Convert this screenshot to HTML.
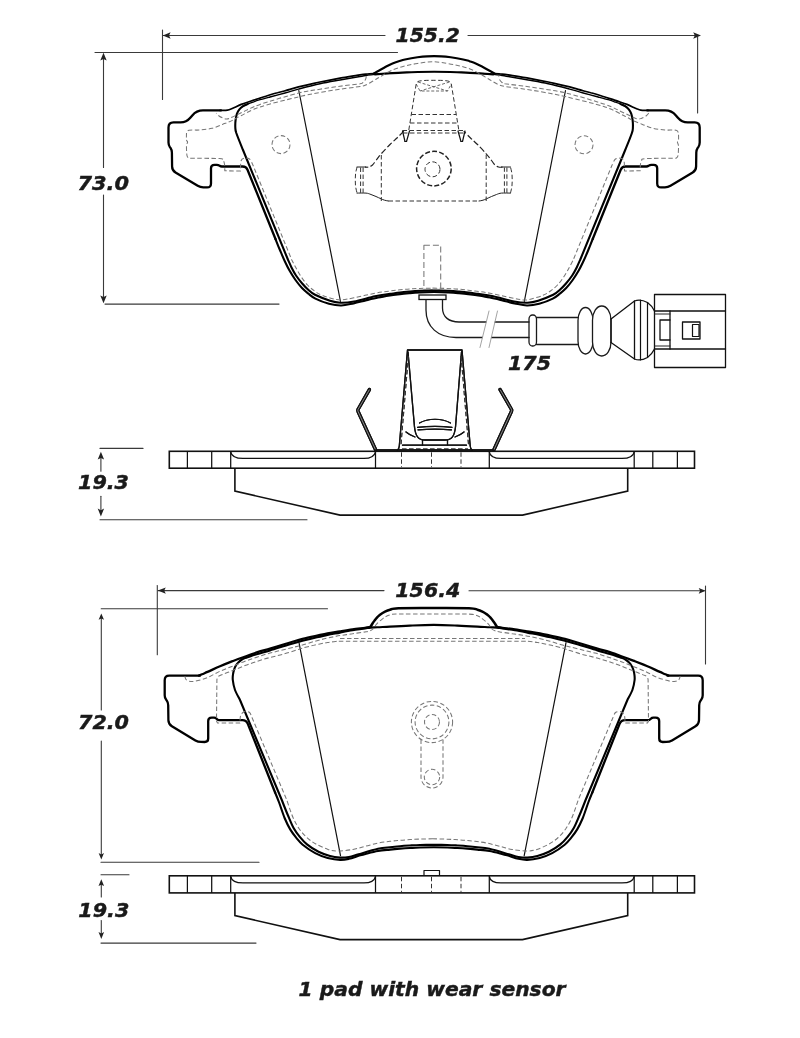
<!DOCTYPE html>
<html lang="en"><head><meta charset="utf-8"><title>Brake pad drawing</title>
<style>
html,body{margin:0;padding:0;background:#fff}
svg{display:block}
path,rect,circle,ellipse{fill:none;stroke-linecap:round;stroke-linejoin:round}
.k{stroke:#000;stroke-width:2.3}
.kb{stroke:#000;stroke-width:2.5}
.k2{stroke:#000;stroke-width:2.1}
.ka{stroke:#000;stroke-width:1.7}
.ma{stroke:#000;stroke-width:1.4}
.m{stroke:#000;stroke-width:2.1}
.t2{stroke:#111;stroke-width:1.25;stroke-linecap:butt}
.s{stroke:#111;stroke-width:1.6;stroke-linejoin:miter;stroke-linecap:butt}
.t{stroke:#111;stroke-width:1.2}
.s2{stroke:#111;stroke-width:1.3}
.w{stroke:#1a1a1a;stroke-width:1.3}
.cn{stroke:#1a1a1a;stroke-width:1.15}
.wg1{stroke:#111;stroke-width:3.4;stroke-linecap:round}
.wg2{stroke:#aaa;stroke-width:.8;stroke-linecap:butt}
.lg{stroke:#999;stroke-width:.9}
.g{stroke:#3a3a3a;stroke-width:1.1}
.d{stroke:#777;stroke-width:1.05;stroke-dasharray:4.5 2.5;stroke-linecap:butt}
.d2{stroke:#777;stroke-width:1.05;stroke-dasharray:6 3;stroke-linecap:butt}
.dd{stroke:#333;stroke-width:1;stroke-dasharray:4.5 2.5;stroke-linecap:butt}
.t1{stroke:#222;stroke-width:1}
.dd3{stroke:#222;stroke-width:1.2;stroke-dasharray:6 2.5;stroke-linecap:butt}
.dd2{stroke:#444;stroke-width:.8;stroke-dasharray:3 1.8;stroke-linecap:butt}
.dk{stroke:#222;stroke-width:1.5;stroke-dasharray:5 2.2;stroke-linecap:butt}
.a{fill:#222;stroke:none}
text{font-family:"DejaVu Sans","Liberation Sans",sans-serif;font-weight:bold;font-style:italic;fill:#1a1a1a;stroke:#1a1a1a;stroke-width:.45}
</style></head><body>
<svg width="800" height="1038" viewBox="0 0 800 1038">
<rect x="0" y="0" width="800" height="1038" style="fill:#fff;stroke:none"/>
<path class="ka" d="M373.8 73.5C372.7 73.6 369.8 73.8 367.5 74C365.2 74.2 364.6 74.1 360 74.8C355.4 75.5 345.4 77.3 340 78.2C334.6 79.2 330.8 80 327.5 80.6C324.2 81.2 322.1 81.6 320 82C317.9 82.4 318.6 82.3 315 83.1C311.4 83.9 302.7 85.9 298.5 86.9C294.3 88 293.5 88.4 290 89.4C286.5 90.4 281.7 91.6 277.5 92.8C273.3 93.9 267.9 95.6 265 96.5C262.1 97.4 261.9 97.5 260 98.1C258.1 98.7 255.8 99.4 253.8 100.1C251.7 100.8 249.6 101.5 247.5 102.2C245.4 102.9 243.3 103.6 241.2 104.4C239.2 105.2 236.7 106.4 235 107.2C233.3 108 232.2 108.5 231 109C229.8 109.5 228.7 109.9 227.5 110.1C226.3 110.3 225.2 110.4 224 110.4C222.8 110.5 220.7 110.4 220 110.4"/>
<path class="ka" d="M648.2 110.4C647.5 110.4 645.5 110.5 644.2 110.4C643 110.4 641.9 110.3 640.7 110.1C639.5 109.9 638.5 109.5 637.2 109C636 108.5 634.9 108 633.2 107.2C631.5 106.4 629 105.2 627 104.4C624.9 103.6 622.8 102.9 620.7 102.2C618.6 101.5 616.5 100.8 614.5 100.1C612.4 99.4 610.1 98.7 608.2 98.1C606.3 97.5 606.1 97.4 603.2 96.5C600.3 95.6 594.9 93.9 590.7 92.8C586.5 91.6 581.7 90.4 578.2 89.4C574.7 88.4 573.9 88 569.7 86.9C565.5 85.9 556.8 83.9 553.2 83.1C549.6 82.3 550.3 82.4 548.2 82C546.1 81.6 544 81.2 540.7 80.6C537.4 80 533.6 79.2 528.2 78.2C522.8 77.3 512.8 75.5 508.2 74.8C503.6 74.1 503 74.2 500.7 74C498.4 73.8 495.5 73.6 494.5 73.5"/>
<path class="k2" d="M275.5 239C276.2 240.7 277.9 245.3 279.5 249C281.1 252.7 283.1 257.7 284.8 261.2C286.5 264.8 287.7 267.4 289.5 270.5C291.3 273.6 293.4 277.1 295.5 280C297.6 282.9 299.8 285.7 302 288C304.2 290.3 306.3 292 308.5 293.8C310.7 295.6 312 296.9 315.4 298.6C318.8 300.3 324.7 302.6 329 303.8C333.3 304.9 337.2 305.6 341.3 305.5C345.4 305.4 349.5 304.2 353.6 303.4C357.7 302.5 361.6 301.4 365.7 300.4C369.8 299.4 374.1 298.3 378.2 297.5C382.2 296.7 386.4 296 390 295.4C393.6 294.8 396.7 294.5 400 294.1C403.3 293.7 406.7 293.4 410 293.1C413.3 292.8 416 292.6 420 292.4C424 292.2 429.4 292 434.1 292C438.8 292 444.2 292.2 448.2 292.4C452.2 292.6 454.9 292.8 458.2 293.1C461.5 293.4 464.9 293.7 468.2 294.1C471.5 294.5 474.6 294.8 478.2 295.4C481.8 296 486 296.7 490 297.5C494.1 298.3 498.4 299.4 502.5 300.4C506.6 301.4 510.5 302.5 514.6 303.4C518.7 304.2 522.8 305.4 526.9 305.5C531 305.6 534.9 304.9 539.2 303.8C543.5 302.6 549.4 300.3 552.8 298.6C556.2 296.9 557.5 295.6 559.7 293.8C561.9 292 564 290.3 566.2 288C568.4 285.7 570.6 282.9 572.7 280C574.8 277.1 576.9 273.6 578.7 270.5C580.5 267.4 581.7 264.8 583.4 261.2C585.1 257.7 587.2 252.7 588.7 249C590.2 245.3 592 240.7 592.7 239"/>
<path class="k" d="M221 110.4L203 110.4 Q196.5 110.4 192.3 115.4L190.3 117.8 Q186.5 122.4 180.5 122.4L173.5 122.4 Q168.5 122.4 168.5 127.4L168.5 142.5 Q168.5 145 169.9 147.1L170.5 147.9 Q171.9 150 171.9 152.5L172.1 166.5 Q172.1 170.5 175.5 172.5L197.7 185.8 Q200.3 187.3 203.3 187.4L207 187.4 Q211 187.5 211 183.5L211 168.3 Q211 164.8 214.5 164.8L216.8 164.8 Q218.3 164.8 219.4 165.7L219.6 165.8 Q220.6 166.5 221.8 166.5L242.7 166.5 Q246.2 166.5 247.5 169.7L275.5 239"/>
<path class="k" d="M592.7 239L620.7 169.7 Q622 166.5 625.5 166.5L646.4 166.5 Q647.6 166.5 648.6 165.8L648.8 165.7 Q649.9 164.8 651.4 164.8L653.7 164.8 Q657.2 164.8 657.2 168.3L657.2 183.5 Q657.2 187.5 661.2 187.4L664.9 187.4 Q667.9 187.3 670.5 185.8L692.7 172.5 Q696.1 170.5 696.1 166.5L696.3 152.5 Q696.3 150 697.7 147.9L698.3 147.1 Q699.7 145 699.7 142.5L699.7 127.4 Q699.7 122.4 694.7 122.4L687.7 122.4 Q681.7 122.4 677.9 117.8L675.9 115.4 Q671.7 110.4 665.2 110.4L647.2 110.4"/>
<path class="k2" d="M373.8 73.5C374.8 72.9 377.9 71.2 380 70C382.1 68.8 384.2 67.6 386.2 66.5C388.3 65.4 390.4 64.4 392.5 63.5C394.6 62.6 396.7 61.9 398.8 61.2C400.8 60.6 401.9 60.1 405 59.4C408.1 58.7 412.6 57.8 417.5 57.2C422.4 56.7 428.6 56.1 434.1 56.1C439.6 56.1 445.9 56.7 450.7 57.2C455.6 57.8 460.1 58.7 463.2 59.4C466.3 60.1 467.4 60.6 469.5 61.2C471.5 61.9 473.6 62.6 475.7 63.5C477.8 64.4 479.9 65.4 482 66.5C484 67.6 486.1 68.8 488.2 70C490.3 71.2 493.4 72.9 494.5 73.5"/>
<path class="k2" d="M493.2 74.4C490.3 74.2 481.7 73.5 475.7 73.1C469.7 72.7 463.9 72.5 457 72.2C450 72 441.7 71.8 434.1 71.8C426.5 71.8 418.2 72 411.2 72.2C404.3 72.5 398.5 72.7 392.5 73.1C386.5 73.5 377.9 74.2 375 74.4"/>
<path class="ma" d="M392.5 73.1C389.6 73.3 379.2 74.1 375 74.4C370.8 74.8 370 74.9 367.5 75.2C365 75.5 364.6 75.7 360 76.5C355.4 77.3 346.7 78.8 340 80C333.3 81.2 326.9 82.2 320 83.8C313.1 85.3 304.3 87.6 298.5 89.1C292.7 90.6 289.8 91.7 285 93C280.2 94.3 274.2 95.9 270 97C265.8 98.1 262.7 98.9 260 99.7C257.3 100.5 255.8 101 253.8 101.8C251.7 102.5 249.3 103.3 247.5 104.1C245.7 104.8 243.8 105.9 243.1 106.2"/>
<path class="ma" d="M625.1 106.2C624.4 105.9 622.5 104.8 620.7 104.1C618.9 103.3 616.5 102.5 614.5 101.8C612.4 101 610.9 100.5 608.2 99.7C605.5 98.9 602.4 98.1 598.2 97C594 95.9 588 94.3 583.2 93C578.5 91.7 575.5 90.6 569.7 89.1C563.9 87.6 555.1 85.3 548.2 83.8C541.3 82.2 534.9 81.2 528.2 80C521.5 78.8 512.8 77.3 508.2 76.5C503.6 75.7 503.2 75.5 500.7 75.2C498.2 74.9 497.4 74.8 493.2 74.4C489 74.1 478.6 73.3 475.7 73.1"/>
<path class="m" d="M247.5 104.1C246.8 104.5 244.4 105.4 243.1 106.2C241.8 107.1 240.4 108.2 239.4 109.4C238.4 110.7 237.5 112 236.9 113.8C236.3 115.5 235.9 117.8 235.6 120C235.3 122.2 235.2 124.8 235.3 127C235.4 129.2 235.1 129.2 236.3 133C237.6 136.8 241.7 146.8 242.8 149.5L288.1 260C288.7 261.2 290.2 264.9 291.5 267.5C292.8 270.1 294.2 272.8 296 275.5C297.8 278.2 300.2 281.2 302.2 283.5C304.2 285.8 305.9 287.6 308 289.5C310.1 291.4 311.3 292.9 315 294.8C318.7 296.6 325.8 299.4 330 300.8C334.2 302.1 336.5 302.6 340.5 302.7C344.5 302.8 348.2 302.6 354 301.5C359.8 300.4 369 297.6 375 296.3C381 295 385.8 294.5 390 293.9C394.2 293.3 396.7 292.9 400 292.5C403.3 292.1 406.7 291.8 410 291.5C413.3 291.2 416 291 420 290.8C424 290.6 429.4 290.4 434.1 290.4C438.8 290.4 444.2 290.6 448.2 290.8C452.2 291 454.9 291.2 458.2 291.5C461.5 291.8 464.9 292.1 468.2 292.5C471.5 292.9 474 293.3 478.2 293.9C482.4 294.5 487.2 295 493.2 296.3C499.2 297.6 508.5 300.4 514.2 301.5C520 302.6 523.7 302.8 527.7 302.7C531.7 302.6 534 302.1 538.2 300.8C542.5 299.4 549.5 296.6 553.2 294.8C556.9 292.9 558.1 291.4 560.2 289.5C562.3 287.6 564 285.8 566 283.5C568 281.2 570.4 278.2 572.2 275.5C574 272.8 575.4 270.1 576.7 267.5C578 264.9 579.5 261.2 580.1 260L625.4 149.5C626.5 146.8 630.7 136.8 631.9 133C633.2 129.2 632.8 129.2 632.9 127C633 124.8 632.9 122.2 632.6 120C632.3 117.8 631.9 115.5 631.3 113.8C630.7 112 629.8 110.7 628.8 109.4C627.8 108.2 626.5 107.1 625.1 106.2C623.8 105.4 621.4 104.5 620.7 104.1"/>
<path class="t" d="M298.8 90.5 L340.5 301.5"/>
<path class="t" d="M565.5 90.5 L524.3 301.5"/>
<path class="d" d="M366.3 76.3C366.2 76.8 366.1 78.5 365.5 79.5C364.9 80.5 363.9 81.8 363 82.5C362.1 83.2 363.8 83.1 360 83.8C356.2 84.4 346.7 85.3 340 86.2C333.3 87.2 326.9 88.1 320 89.2C313.1 90.4 308.5 90.6 298.5 93.1C288.5 95.6 269.3 101.2 260 104.4C250.7 107.6 247.2 110.1 242.5 112.2C237.8 114.3 234.5 116.1 231.9 117.2C229.3 118.3 228.3 118.8 226.9 119C225.5 119.2 225.1 118.9 223.8 118.4C222.4 117.9 220.2 116.9 219 116C217.8 115.1 216.7 113.6 216.2 113.1"/>
<path class="d" d="M648.8 113.1C648.3 113.6 647.2 115.1 646 116C644.8 116.9 642.6 117.9 641.2 118.4C639.9 118.9 639.5 119.2 638.1 119C636.7 118.8 635.7 118.3 633.1 117.2C630.5 116.1 627.2 114.3 622.5 112.2C617.8 110.1 614.3 107.6 605 104.4C595.7 101.2 576.5 95.6 566.5 93.1C556.5 90.6 551.9 90.4 545 89.2C538.1 88.1 531.7 87.2 525 86.2C518.3 85.3 508.8 84.4 505 83.8C501.2 83.1 502.9 83.2 502 82.5C501.1 81.8 500.1 80.5 499.5 79.5C498.9 78.5 498.8 76.8 498.7 76.3"/>
<path class="d" d="M432.5 288.1C434.6 288.2 441.2 288.3 445 288.4C448.8 288.5 451.7 288.7 455 288.9C458.3 289.1 461.7 289.4 465 289.8C468.3 290.2 470.8 290.4 475 291C479.2 291.6 484 292.1 490 293.2C496 294.4 505.5 296.6 511 297.8C516.5 298.9 520 299.6 523 299.9C526 300.2 525.8 300.2 529 299.5C532.2 298.8 538.9 296.9 542.5 295.5C546.1 294.1 548 292.8 550.5 291C553 289.2 555.2 287.4 557.5 285C559.8 282.6 562 279.5 564 276.5C566 273.5 568 269.8 569.5 267C571 264.2 572.6 261.2 573.2 260L612.1 165C612.7 164 614 160.1 615.5 159C617 157.9 619.6 158 621 158.3C622.4 158.6 623.4 158.9 624 161C624.6 163.1 624.4 169.3 624.5 171L640.2 170.8C640.2 169.8 640.2 166.6 640.4 165C640.6 163.4 640.6 162.1 641.5 161C642.4 159.9 639.8 159 645.5 158.6C651.2 158.2 670.9 158.4 676 158.3C676.3 157.9 677.6 157.7 678 155.6C678.4 153.5 678.6 148.3 678.5 146C678.4 143.7 677.4 143 677.4 142C677.4 141 678.3 141.5 678.5 140C678.7 138.5 678.5 134.2 678.5 133C678.1 132.6 678.2 130.8 676 130.3C673.8 129.8 668.8 130.3 665 130C661.2 129.7 656.8 129.2 653 128.3C649.2 127.4 645.8 125.7 642.5 124.4C639.2 123.1 636 122 633.1 120.6C630.2 119.2 629.7 118.5 625 116.2C620.3 114 614.8 110.1 605 106.9C595.2 103.7 576.5 99.3 566.5 96.9C556.5 94.5 551.9 93.8 545 92.5C538.1 91.2 531.7 90.2 525 89.2C518.3 88.2 509.4 87.2 505 86.5C500.6 85.8 501 85.7 498.8 84.8C496.5 83.8 493.5 81.9 491.2 80.6C489 79.3 488.1 78.7 485 76.9C481.9 75.1 476.7 71.8 472.5 70C468.3 68.2 464.2 67.1 460 66C455.8 64.9 452.1 64.2 447.5 63.5C442.9 62.8 437.5 61.7 432.5 61.7C427.5 61.7 422.1 62.8 417.5 63.5C412.9 64.2 409.2 64.9 405 66C400.8 67.1 396.7 68.2 392.5 70C388.3 71.8 383.1 75.1 380 76.9C376.9 78.7 376 79.3 373.8 80.6C371.5 81.9 368.5 83.8 366.2 84.8C364 85.7 364.4 85.8 360 86.5C355.6 87.2 346.7 88.2 340 89.2C333.3 90.2 326.9 91.2 320 92.5C313.1 93.8 308.5 94.5 298.5 96.9C288.5 99.3 269.8 103.7 260 106.9C250.2 110.1 244.7 114 240 116.2C235.3 118.5 234.8 119.2 231.9 120.6C229 122 225.8 123.1 222.5 124.4C219.2 125.7 215.8 127.4 212 128.3C208.2 129.2 203.8 129.7 200 130C196.2 130.3 191.2 129.8 189 130.3C186.8 130.8 186.9 132.6 186.5 133C186.5 134.2 186.3 138.5 186.5 140C186.7 141.5 187.6 141 187.6 142C187.6 143 186.6 143.7 186.5 146C186.4 148.3 186.6 153.5 187 155.6C187.4 157.7 188.7 157.9 189 158.3C194.1 158.4 213.8 158.2 219.5 158.6C225.2 159 222.7 159.9 223.5 161C224.3 162.1 224.4 163.4 224.6 165C224.8 166.6 224.8 169.8 224.8 170.8L240.5 171C240.6 169.3 240.4 163.1 241 161C241.6 158.9 242.6 158.6 244 158.3C245.4 158 248 157.9 249.5 159C251 160.1 252.3 164 252.9 165L291.8 260C292.4 261.2 294 264.2 295.5 267C297 269.8 299 273.5 301 276.5C303 279.5 305.2 282.6 307.5 285C309.8 287.4 312 289.2 314.5 291C317 292.8 318.9 294.1 322.5 295.5C326.1 296.9 332.8 298.8 336 299.5C339.2 300.2 339 300.2 342 299.9C345 299.6 348.5 298.9 354 297.8C359.5 296.6 369 294.4 375 293.2C381 292.1 385.8 291.6 390 291C394.2 290.4 396.7 290.2 400 289.8C403.3 289.4 406.7 289.1 410 288.9C413.3 288.7 416.2 288.5 420 288.4C423.8 288.3 430.4 288.2 432.5 288.1"/>
<circle class="d" cx="281" cy="144.6" r="9"/>
<circle class="d" cx="584" cy="144.8" r="9"/>
<path class="dd" d="M408.8 130L416.2 84C416.5 83.6 416.7 82.1 418 81.5C419.3 80.9 421.4 80.7 424 80.5C426.6 80.3 430.5 80.3 433.8 80.3C437 80.3 440.9 80.3 443.5 80.5C446.1 80.7 448.2 80.9 449.5 81.5C450.8 82.1 451 83.6 451.3 84L458.8 130"/>
<path class="dd2" d="M416.2 84 L420 91 H447.5 L451.3 84"/>
<path class="dd2" d="M418 82 L447.5 91 M449.5 82 L420 91"/>
<path class="dd" d="M411.5 114.5 L456 114.5"/>
<path class="dd" d="M410 123 L457.5 123"/>
<path class="dd" d="M402.5 130.5 L465 130.5"/>
<path class="dd" d="M403 133 L464.5 133"/>
<path class="t" d="M402.5 131L405 141.5"/>
<path class="t" d="M462.5 141.5L465 131"/>
<path class="t" d="M409.5 131L406.5 141.5"/>
<path class="t" d="M461 141.5L458 131"/>
<path class="t" d="M405 141.5L406.5 141.5"/>
<path class="t" d="M461 141.5L462.5 141.5"/>
<path class="dd3" d="M403.8 131.2C402.6 132.4 399.3 135.8 397 138C394.7 140.2 392.6 141.9 390 144.5C387.4 147.1 383.6 151.1 381.2 153.8C378.9 156.4 377.5 158.6 376 160.5C374.5 162.4 373.7 163.9 372.5 165C371.3 166.1 370.2 166.6 369 167C367.8 167.4 365.7 167.2 365 167.2"/>
<path class="dd3" d="M502.5 167.2C501.8 167.2 499.8 167.4 498.5 167C497.2 166.6 496.2 166.1 495 165C493.8 163.9 493 162.4 491.5 160.5C490 158.6 488.6 156.4 486.2 153.8C483.9 151.1 480.1 147.1 477.5 144.5C474.9 141.9 472.8 140.2 470.5 138C468.2 135.8 464.9 132.4 463.8 131.2"/>
<path class="t1" d="M366 167L357 167"/>
<path class="t1" d="M510.5 167L501.5 167"/>
<path class="dd" d="M357 167C356.8 168.1 355.9 171.3 355.6 173.5C355.3 175.7 355.3 177.8 355.3 180C355.3 182.2 355.3 184.3 355.6 186.5C355.9 188.7 356.8 191.9 357 193"/>
<path class="dd" d="M510.5 193C510.7 191.9 511.6 188.7 511.9 186.5C512.2 184.3 512.2 182.2 512.2 180C512.2 177.8 512.2 175.7 511.9 173.5C511.6 171.3 510.7 168.1 510.5 167"/>
<path class="dd" d="M360.6 167.5L360.6 192.8"/>
<path class="dd" d="M506.9 192.8L506.9 167.5"/>
<path class="dd" d="M363.1 167.5L363.1 192.8"/>
<path class="dd" d="M504.4 192.8L504.4 167.5"/>
<path class="t1" d="M357 193.1C358.5 193.1 363.7 192.9 366 193.1C368.3 193.3 369.3 193.9 371 194.5C372.7 195.1 374.3 195.8 376 196.5C377.7 197.2 379.6 198.2 381 198.8C382.4 199.4 383.2 199.8 384.5 200.2C385.8 200.6 387.8 200.9 388.5 201"/>
<path class="t1" d="M479 201C479.7 200.9 481.8 200.6 483 200.2C484.2 199.8 485.1 199.4 486.5 198.8C487.9 198.2 489.8 197.2 491.5 196.5C493.2 195.8 494.8 195.1 496.5 194.5C498.2 193.9 499.2 193.3 501.5 193.1C503.8 192.9 509 193.1 510.5 193.1"/>
<path class="dd" d="M388.5 201 L479 201"/>
<path class="dd" d="M381.3 155L381.3 201"/>
<path class="dd" d="M486.2 201L486.2 155"/>
<circle class="dk" cx="433.9" cy="168.6" r="17.3"/>
<circle class="dd" cx="432.5" cy="169.3" r="7.5"/>
<path class="k" d="M370.5 626.9C369.6 627 368 627.4 365 627.8C362 628.2 356.7 628.7 352.5 629.3C348.3 629.9 344.2 630.6 340 631.3C335.8 632 331.7 632.5 327.5 633.3C323.3 634.1 319.2 635.2 315 636.1C310.8 637 305.8 638.1 302.5 638.9C299.2 639.7 297.9 640.1 295 641C292.1 641.9 289.2 642.7 285 644C280.8 645.3 274.6 647.2 270 648.6C265.4 650 262.1 650.7 257.5 652.2C252.9 653.7 246.7 656 242.5 657.5C238.3 659 236.2 659.8 232.5 661.2C228.8 662.7 224.2 664.5 220 666.2C215.8 668 210.5 670.6 207.5 671.9C204.5 673.2 203.5 673.7 202 674.3C200.5 674.9 199.3 675.4 198.8 675.6"/>
<path class="k" d="M668.6 675.6C668.1 675.4 666.9 674.9 665.4 674.3C663.9 673.7 662.9 673.2 659.9 671.9C656.9 670.6 651.6 668 647.4 666.2C643.2 664.5 638.6 662.7 634.9 661.2C631.1 659.8 629.1 659 624.9 657.5C620.7 656 614.5 653.7 609.9 652.2C605.3 650.7 602 650 597.4 648.6C592.8 647.2 586.6 645.3 582.4 644C578.2 642.7 575.3 641.9 572.4 641C569.5 640.1 568.2 639.7 564.9 638.9C561.6 638.1 556.6 637 552.4 636.1C548.2 635.2 544.1 634.1 539.9 633.3C535.7 632.5 531.6 632 527.4 631.3C523.2 630.6 519.1 629.9 514.9 629.3C510.7 628.7 505.4 628.2 502.4 627.8C499.4 627.4 497.8 627 496.9 626.9"/>
<path class="k2" d="M275.1 792.5C275.8 794.2 277.5 798.2 279.1 802.5C280.7 806.8 282.8 813.5 284.6 818C286.5 822.5 288.2 826 290.2 829.4C292.2 832.8 294.4 835.5 296.5 838.1C298.6 840.7 299.6 842.2 302.7 844.7C305.8 847.2 311 850.9 315.2 853.1C319.4 855.3 323.5 856.9 327.7 858C331.9 859.1 336.6 859.8 340.2 859.9C343.8 860 345.9 859.5 349 858.8C352.1 858.1 355.9 856.6 358.6 855.8C361.4 855 362.3 854.7 365.5 853.9C368.7 853.1 373.9 851.7 378 851C382.1 850.3 386.3 850 390 849.6C393.7 849.2 396.7 848.9 400 848.6C403.3 848.4 406.7 848.2 410 848C413.3 847.8 416.1 847.7 420 847.5C423.9 847.4 429.1 847.3 433.7 847.3C438.3 847.3 443.4 847.4 447.4 847.5C451.3 847.7 454.1 847.8 457.4 848C460.7 848.2 464.1 848.4 467.4 848.6C470.7 848.9 473.7 849.2 477.4 849.6C481.1 850 485.3 850.3 489.4 851C493.5 851.7 498.7 853.1 501.9 853.9C505.1 854.7 506 855 508.8 855.8C511.5 856.6 515.3 858.1 518.4 858.8C521.5 859.5 523.7 860 527.2 859.9C530.8 859.8 535.5 859.1 539.7 858C543.9 856.9 548 855.3 552.2 853.1C556.4 850.9 561.6 847.2 564.7 844.7C567.8 842.2 568.8 840.7 570.9 838.1C573 835.5 575.2 832.8 577.2 829.4C579.2 826 580.9 822.5 582.8 818C584.6 813.5 586.7 806.8 588.3 802.5C589.9 798.2 591.6 794.2 592.3 792.5"/>
<path class="k" d="M200 675.7L169.2 675.7 Q164.7 675.7 164.7 680.2L164.7 695.2 Q164.7 697.7 166.1 699.7L166.8 700.7 Q168.2 702.7 168.2 705.2L168.4 720.2 Q168.5 724.2 171.9 726.3L195.4 740.4 Q198 741.9 201 741.9L204.7 742 Q208.2 742 208.2 738.5L208.2 721.1 Q208.2 717.6 211.7 717.6L214 717.6 Q215.5 717.6 216.5 718.7L217.2 719.3 Q218 720.2 219.2 720.2L242.3 720.2 Q246.3 720.2 247.8 723.9L275.1 792.5"/>
<path class="k" d="M592.3 792.5L619.6 723.9 Q621.1 720.2 625.1 720.2L648.2 720.2 Q649.4 720.2 650.2 719.3L650.9 718.7 Q651.9 717.6 653.4 717.6L655.7 717.6 Q659.2 717.6 659.2 721.1L659.2 738.5 Q659.2 742 662.7 742L666.4 741.9 Q669.4 741.9 672 740.4L695.5 726.3 Q698.9 724.2 699 720.2L699.2 705.2 Q699.2 702.7 700.6 700.7L701.3 699.7 Q702.7 697.7 702.7 695.2L702.7 680.2 Q702.7 675.7 698.2 675.7L667.4 675.7"/>
<path class="kb" d="M370.5 626.9C370.8 626.3 371.8 624.6 372.5 623.5C373.2 622.4 374.2 621.1 375 620C375.8 618.9 376.7 617.9 377.5 617C378.3 616.1 378.8 615.6 380 614.7C381.2 613.8 383.3 612.4 385 611.6C386.7 610.8 387.8 610.3 390 609.7C392.2 609.1 391.2 608.5 398.5 608.2C405.8 607.9 422 608 433.7 608C445.4 608 461.6 607.9 468.9 608.2C476.2 608.5 475.1 609.1 477.4 609.7C479.6 610.3 480.7 610.8 482.4 611.6C484.1 612.4 486.1 613.8 487.4 614.7C488.6 615.6 489.1 616.1 489.9 617C490.7 617.9 491.6 618.9 492.4 620C493.2 621.1 494.1 622.4 494.9 623.5C495.6 624.6 496.6 626.3 496.9 626.9"/>
<path class="m" d="M433.7 844.7C431.4 844.8 423.9 844.9 420 845C416.1 845.1 413.3 845.3 410 845.5C406.7 845.7 403.3 845.9 400 846.2C396.7 846.5 393.7 846.8 390 847.2C386.3 847.6 383.2 847.6 378 848.8C372.8 850 363.4 852.9 358.6 854.3C353.8 855.7 352.1 856.5 349 857C345.9 857.5 343.2 857.8 340 857.6C336.8 857.4 333.6 857 330 856C326.4 855 322.3 853.7 318.5 851.8C314.7 849.9 310.1 846.9 307 844.4C303.9 841.9 302 839.6 299.8 836.9C297.6 834.2 295.6 831.6 293.6 828C291.6 824.4 290 820.2 288 815.5C286 810.8 282.8 802.6 281.8 800L240 700C239.2 698.3 236.2 693.3 235 690C233.8 686.7 233.1 682.7 232.8 680C232.5 677.3 232.8 675.6 233.1 673.8C233.3 671.9 233.8 670.5 234.3 669C234.8 667.5 235.6 666.1 236.2 665C236.9 663.9 237.5 663.3 238.3 662.5C239.1 661.7 240.1 660.7 241.2 660C242.4 659.3 243.5 658.7 245 658.1C246.5 657.5 247.9 657.1 250 656.4C252.1 655.7 254.2 655 257.5 654C260.8 653 264.6 652 270 650.4C275.4 648.8 284.6 645.8 290 644.2C295.4 642.6 298.3 641.8 302.5 640.7C306.7 639.6 310.8 638.8 315 637.8C319.2 636.8 323.3 635.8 327.5 634.9C331.7 634 335.8 633.4 340 632.6C344.2 631.8 348.3 631 352.5 630.3C356.7 629.6 362 629 365 628.5C368 628 368.4 627.8 370.5 627.6C372.6 627.4 374.2 627.4 377.5 627.2C380.8 627 384.6 626.9 390 626.6C395.4 626.3 402.7 625.9 410 625.6C417.3 625.3 425.8 624.9 433.7 624.9C441.6 624.9 450.1 625.3 457.4 625.6C464.7 625.9 472 626.3 477.4 626.6C482.8 626.9 486.6 627 489.9 627.2C493.1 627.4 494.8 627.4 496.9 627.6C499 627.8 499.4 628 502.4 628.5C505.4 629 510.7 629.6 514.9 630.3C519.1 631 523.2 631.8 527.4 632.6C531.6 633.4 535.7 634 539.9 634.9C544.1 635.8 548.2 636.8 552.4 637.8C556.6 638.8 560.7 639.6 564.9 640.7C569.1 641.8 572 642.6 577.4 644.2C582.8 645.8 592 648.8 597.4 650.4C602.8 652 606.6 653 609.9 654C613.2 655 615.3 655.7 617.4 656.4C619.5 657.1 620.9 657.5 622.4 658.1C623.9 658.7 625 659.3 626.1 660C627.3 660.7 628.3 661.7 629.1 662.5C629.9 663.3 630.5 663.9 631.1 665C631.8 666.1 632.6 667.5 633.1 669C633.6 670.5 634 671.9 634.3 673.8C634.5 675.6 634.9 677.3 634.6 680C634.3 682.7 633.6 686.7 632.4 690C631.2 693.3 628.2 698.3 627.4 700L585.6 800C584.6 802.6 581.4 810.8 579.4 815.5C577.4 820.2 575.8 824.4 573.8 828C571.8 831.6 569.8 834.2 567.6 836.9C565.4 839.6 563.5 841.9 560.4 844.4C557.3 846.9 552.7 849.9 548.9 851.8C545.1 853.7 541 855 537.4 856C533.8 857 530.6 857.4 527.4 857.6C524.2 857.8 521.5 857.5 518.4 857C515.3 856.5 513.6 855.7 508.8 854.3C504 852.9 494.6 850 489.4 848.8C484.2 847.6 481.1 847.6 477.4 847.2C473.7 846.8 470.7 846.5 467.4 846.2C464.1 845.9 460.7 845.7 457.4 845.5C454.1 845.3 451.3 845.1 447.4 845C443.4 844.9 436 844.8 433.7 844.7"/>
<path class="t" d="M299 642.7 L340.5 855.7"/>
<path class="t" d="M566 642.7 L524.2 855.7"/>
<path class="d" d="M184.8 676.3C185 676.8 185.3 678.7 186 679.5C186.7 680.3 187.5 680.9 189 681.2C190.5 681.5 191.9 681.9 195 681.2C198.1 680.6 203.3 679.2 207.5 677.5C211.7 675.8 215.8 673.1 220 671.2C224.2 669.4 228.3 667.9 232.5 666.2C236.7 664.6 240.8 662.8 245 661.2C249.2 659.7 253.3 658.3 257.5 656.9C261.7 655.5 265.8 654.2 270 653.1C274.2 652 278.3 651 282.5 650C286.7 649 291.7 647.7 295 646.9C298.3 646.1 299.2 645.9 302.5 645C305.8 644.1 310.8 642.4 315 641.2C319.2 640.1 323.3 639 327.5 638.1C331.7 637.2 335.8 636.3 340 635.6C344.2 634.9 348.3 634.4 352.5 633.8C356.7 633.1 362.1 632.4 365 631.9C367.9 631.4 368.7 631.3 370 630.8C371.3 630.3 372.1 629.9 373 629C373.9 628.1 374.8 626.5 375.5 625.5C376.2 624.5 376.3 624.2 377.5 623.1C378.7 622 381.1 619.9 382.5 618.8C383.9 617.6 384.8 617.1 386 616.5C387.2 615.9 388.3 615.4 390 615C391.7 614.6 388.9 614.3 396 614.1C403.1 613.9 420.3 614 432.5 614C444.7 614 461.9 613.9 469 614.1C476.1 614.3 473.3 614.6 475 615C476.7 615.4 477.8 615.9 479 616.5C480.2 617.1 481.1 617.6 482.5 618.8C483.9 619.9 486.3 622 487.5 623.1C488.7 624.2 488.8 624.5 489.5 625.5C490.2 626.5 491.1 628.1 492 629C492.9 629.9 493.7 630.3 495 630.8C496.3 631.3 497.1 631.4 500 631.9C502.9 632.4 508.3 633.1 512.5 633.8C516.7 634.4 520.8 634.9 525 635.6C529.2 636.3 533.3 637.2 537.5 638.1C541.7 639 545.8 640.1 550 641.2C554.2 642.4 559.2 644.1 562.5 645C565.8 645.9 566.7 646.1 570 646.9C573.3 647.7 578.3 649 582.5 650C586.7 651 590.8 652 595 653.1C599.2 654.2 603.3 655.5 607.5 656.9C611.7 658.3 615.8 659.7 620 661.2C624.2 662.8 628.3 664.6 632.5 666.2C636.7 667.9 640.8 669.4 645 671.2C649.2 673.1 653.3 675.8 657.5 677.5C661.7 679.2 666.9 680.6 670 681.2C673.1 681.9 674.5 681.5 676 681.2C677.5 680.9 678.3 680.3 679 679.5C679.7 678.7 680 676.8 680.2 676.3"/>
<path class="d" d="M432.5 838.8C434.6 838.8 441.2 839 445 839.1C448.8 839.2 451.7 839.4 455 839.6C458.3 839.8 461.7 840 465 840.3C468.3 840.6 471.3 840.8 475 841.3C478.7 841.8 482.9 842.3 487 843.1C491.1 843.9 495.3 845.2 499.5 846.2C503.7 847.3 507.4 848.6 512 849.4C516.6 850.2 522.8 851 527 851C531.2 851 533.2 850.6 537 849.4C540.8 848.2 546 845.7 549.5 843.8C553 841.8 555.5 840 558.2 837.5C561 835 563.5 832.1 565.8 828.8C568 825.4 569.9 822.3 572 817.5C574.1 812.7 577.2 802.9 578.2 800L613 717.5C613.4 716.7 614.2 713.5 615.5 712.5C616.8 711.5 619.2 711.3 620.7 711.8C622.2 712.3 623.7 713.6 624.4 715.5C625.1 717.4 624.9 721.8 625 723L647.5 723L648.5 721L648.1 679.5C648 679.1 647.7 677.6 647.2 677C646.7 676.4 647.5 676.7 645 675.6C642.5 674.5 636.7 672.3 632.5 670.6C628.3 668.9 624.2 667.2 620 665.6C615.8 664 611.7 662.6 607.5 661.2C603.3 659.9 599.2 658.6 595 657.5C590.8 656.4 586.7 655.5 582.5 654.4C578.3 653.2 573.3 651.6 570 650.6C566.7 649.6 565.8 649 562.5 648.1C559.2 647.2 554.2 645.9 550 645C545.8 644.1 541.2 643.1 537.5 642.5C533.8 641.9 529.2 641.5 527.5 641.3C511.7 641.3 464.2 641.3 432.5 641.3C400.8 641.3 353.3 641.3 337.5 641.3C335.8 641.5 331.2 641.9 327.5 642.5C323.8 643.1 319.2 644.1 315 645C310.8 645.9 305.8 647.2 302.5 648.1C299.2 649 298.3 649.6 295 650.6C291.7 651.6 286.7 653.2 282.5 654.4C278.3 655.5 274.2 656.4 270 657.5C265.8 658.6 261.7 659.9 257.5 661.2C253.3 662.6 249.2 664 245 665.6C240.8 667.2 236.7 668.9 232.5 670.6C228.3 672.3 222.4 674.5 220 675.6C217.6 676.7 218.3 676.4 217.8 677C217.3 677.6 217.1 679.1 216.9 679.5L216.5 721L217.5 723L240 723C240.1 721.8 239.9 717.4 240.6 715.5C241.3 713.6 242.8 712.3 244.3 711.8C245.8 711.3 248.2 711.5 249.5 712.5C250.8 713.5 251.6 716.7 252 717.5L286.8 800C287.8 802.9 290.9 812.7 293 817.5C295.1 822.3 297 825.4 299.2 828.8C301.5 832.1 304 835 306.8 837.5C309.5 840 312 841.8 315.5 843.8C319 845.7 324.2 848.2 328 849.4C331.8 850.6 333.8 851 338 851C342.2 851 348.4 850.2 353 849.4C357.6 848.6 361.3 847.3 365.5 846.2C369.7 845.2 373.9 843.9 378 843.1C382.1 842.3 386.3 841.8 390 841.3C393.7 840.8 396.7 840.6 400 840.3C403.3 840 406.7 839.8 410 839.6C413.3 839.4 416.2 839.2 420 839.1C423.8 839 430.4 838.8 432.5 838.8"/>
<path class="d" d="M340 638.5 L525 638.5"/>
<circle class="d" cx="432" cy="722" r="20.6"/>
<circle class="d" cx="432" cy="722" r="16.9"/>
<circle class="d" cx="432" cy="722" r="7.5"/>
<circle class="d" cx="432" cy="777" r="7.7"/>
<path class="d" d="M421 739.5 V777 A11 11 0 0 0 443 777 V739.5"/>
<rect class="s" x="169.3" y="451.3" width="525.2" height="16.9"/>
<path class="t2" d="M187.4 451.3 L187.4 468.2"/>
<path class="t2" d="M211.7 451.3 L211.7 468.2"/>
<path class="t2" d="M230.7 451.3 L230.7 468.2"/>
<path class="t2" d="M634.2 451.3 L634.2 468.2"/>
<path class="t2" d="M652.8 451.3 L652.8 468.2"/>
<path class="t2" d="M677.4 451.3 L677.4 468.2"/>
<path class="s" d="M234.9 468.2 V491.1 L340 515.1 H522.5 L627.7 491.1 V468.2"/>
<path class="t2" d="M230.7 451.8 C231.5 456.4 236 458.4 243 458.4 H364 C370 458.4 374.5 456.4 375.5 451.8"/>
<path class="t2" d="M489.3 451.8 C490 456.4 494.5 458.4 501 458.4 H622 C629 458.4 633.4 456.4 634.2 451.8"/>
<path class="t2" d="M375.5 451.3 L375.5 468.2"/>
<path class="t2" d="M489.3 451.3 L489.3 468.2"/>
<path class="dd" d="M401.5 452.3 L401.5 467.2"/>
<path class="dd" d="M431.5 452.3 L431.5 467.2"/>
<path class="dd" d="M461 452.3 L461 467.2"/>
<rect class="s" x="169.3" y="875.8" width="525.2" height="17.1"/>
<path class="t2" d="M187.4 875.8 L187.4 892.9"/>
<path class="t2" d="M211.7 875.8 L211.7 892.9"/>
<path class="t2" d="M230.7 875.8 L230.7 892.9"/>
<path class="t2" d="M634.2 875.8 L634.2 892.9"/>
<path class="t2" d="M652.8 875.8 L652.8 892.9"/>
<path class="t2" d="M677.4 875.8 L677.4 892.9"/>
<path class="s" d="M234.9 892.9 V915.6 L340 939.6 H522.5 L627.7 915.6 V892.9"/>
<path class="t2" d="M230.7 876.3 C231.5 880.9 236 882.9 243 882.9 H364 C370 882.9 374.5 880.9 375.5 876.3"/>
<path class="t2" d="M489.3 876.3 C490 880.9 494.5 882.9 501 882.9 H622 C629 882.9 633.4 880.9 634.2 876.3"/>
<path class="t2" d="M375.5 875.8 L375.5 892.9"/>
<path class="t2" d="M489.3 875.8 L489.3 892.9"/>
<path class="dd" d="M401.5 876.8 L401.5 891.9"/>
<path class="dd" d="M431.5 876.8 L431.5 891.9"/>
<path class="dd" d="M461 876.8 L461 891.9"/>
<rect class="t" x="424" y="870.5" width="15.5" height="5"/>
<path class="s2" d="M397.3 450.3 Q399 449.3 399.3 446 L407.5 350 H462 L470.2 446 Q470.5 449.3 472.2 450.3"/>
<path class="s2" d="M408 352 L414.5 427 C415.5 436 418 440 425 440 H445 C452 440 454.5 436 455.5 427 L461.5 352"/>
<path class="dd" d="M408.4 356 L400.9 446"/>
<path class="dd" d="M461.1 356 L468.6 446"/>
<path class="t" d="M419.5 423 C428 418 442 418 450.5 423"/>
<path class="t" d="M417.5 427.3 C428 426.3 442 426.3 452 427.3"/>
<path class="t" d="M418 429.8 C428 429 442 429 451.5 429.8"/>
<path class="t" d="M406 432 C409 434.5 412 436 415 437"/>
<path class="t" d="M464 432 C461 434.5 458 436 455 437"/>
<path class="t" d="M422.5 440 V445 M447.5 440 V445"/>
<path class="t" d="M402.5 445.2 L466.5 445.2"/>
<path class="dd" d="M402 449 L468 449"/>
<path class="wg1" d="M369.4 389.6 L358 409.5 Q357.6 410.5 358.2 411.8 L375.6 449.8"/>
<path class="wg2" d="M369.4 389.6 L358 409.5 Q357.6 410.5 358.2 411.8 L375.6 449.8"/>
<path class="wg1" d="M500.1 389.6 L511.5 409.5 Q511.9 410.5 511.3 411.8 L493.9 449.8"/>
<path class="wg2" d="M500.1 389.6 L511.5 409.5 Q511.9 410.5 511.3 411.8 L493.9 449.8"/>
<path class="s2" d="M375.5 450 L493.5 450"/>
<path class="s2" d="M397.3 450.3 Q399 449.3 399.3 446 L407.5 350 H462 L470.2 446 Q470.5 449.3 472.2 450.3"/>
<path class="s2" d="M408 352 L414.5 427 C415.5 436 418 440 425 440 H445 C452 440 454.5 436 455.5 427 L461.5 352"/>
<path class="dd" d="M408.4 356 L400.9 446"/>
<path class="dd" d="M461.1 356 L468.6 446"/>
<path class="t" d="M419.5 423 C428 418 442 418 450.5 423"/>
<path class="t" d="M417.5 427.3 C428 426.3 442 426.3 452 427.3"/>
<path class="t" d="M418 429.8 C428 429 442 429 451.5 429.8"/>
<path class="t" d="M406 432 C409 434.5 412 436 415 437"/>
<path class="t" d="M464 432 C461 434.5 458 436 455 437"/>
<path class="t" d="M422.5 440 V445 M447.5 440 V445"/>
<path class="t" d="M402.5 445.2 L466.5 445.2"/>
<path class="dd" d="M402 449 L468 449"/>
<path class="wg1" d="M369.4 389.6 L358 409.5 Q357.6 410.5 358.2 411.8 L375.6 449.8"/>
<path class="wg2" d="M369.4 389.6 L358 409.5 Q357.6 410.5 358.2 411.8 L375.6 449.8"/>
<path class="wg1" d="M500.1 389.6 L511.5 409.5 Q511.9 410.5 511.3 411.8 L493.9 449.8"/>
<path class="wg2" d="M500.1 389.6 L511.5 409.5 Q511.9 410.5 511.3 411.8 L493.9 449.8"/>
<path class="s2" d="M375.5 450 L493.5 450"/>
<rect class="d2" x="423.9" y="245.3" width="16.8" height="44"/>
<rect class="s" style="fill:#fff;stroke-width:1.3" x="419" y="295" width="27" height="4.5"/>
<path class="w" d="M426 300 V310 C426 327 438 337.5 456 337.5 H529"/>
<path class="w" d="M442.5 300 V308 C442.5 317 449 322 459 322 H529"/>
<polygon points="489.3,311 497.2,311 488.7,347.5 480.3,347.5" style="fill:#fff;stroke:none"/>
<path class="lg" d="M489 311 L480 347.5"/>
<path class="lg" d="M497.5 311 L489 347.5"/>
<rect class="w" x="529" y="315" width="7.5" height="31" rx="3.5" ry="4"/>
<path class="w" d="M536.5 317.5 H578 M536.5 344.5 H578"/>
<rect class="w" style="fill:#fff" x="578" y="307.5" width="15" height="46.5" rx="7.5" ry="13"/>
<rect class="w" style="fill:#fff" x="592.5" y="306" width="18.5" height="50" rx="9.2" ry="14"/>
<path class="s2" d="M611 319 L634.5 301 C638 299.5 643 300 647.5 302.5 C651 305 653 308 654.5 311 M611 342.5 L634.5 359 C638 360.5 643 360 647.5 357.5 C651 355 653 352 654.5 349"/>
<path class="s2" d="M611 319 L611 342.5"/>
<path class="s2" d="M634.5 301 L634.5 359"/>
<path class="t" d="M640.5 300 L640.5 360"/>
<path class="t" d="M647.5 302.5 L647.5 357.5"/>
<rect class="s2" x="654.5" y="294.5" width="71" height="73"/>
<path class="s2" d="M654.5 311 L725.5 311"/>
<path class="s2" d="M654.5 349 L725.5 349"/>
<path class="s2" d="M670 311 L670 349"/>
<path class="t1" d="M654.5 314 L670 314"/>
<path class="t1" d="M654.5 346 L670 346"/>
<path class="s2" d="M670 320 H660 V340 H670"/>
<rect class="s2" x="682.5" y="322" width="17.5" height="17"/>
<rect class="t" x="692.5" y="324.5" width="6.5" height="12"/>
<path class="g" d="M162.5 30 L162.5 99.5"/>
<path class="g" d="M697.6 37 L697.6 113"/>
<path class="g" d="M163 35.5 L385 35.5"/>
<path class="g" d="M468 35.5 L699 35.5"/>
<polygon class="a" points="162.8,35.5 170.6,32.3 169,35.5 170.6,38.7"/>
<polygon class="a" points="701,35.5 693.2,32.3 694.8,35.5 693.2,38.7"/>
<path class="g" d="M95 52.5 L397.5 52.5"/>
<path class="g" d="M105 304.1 L279 304.1"/>
<path class="g" d="M103.5 56 L103.5 167.5"/>
<path class="g" d="M103.5 195 L103.5 300"/>
<polygon class="a" points="103.5,52.8 100.3,60.6 103.5,59 106.7,60.6"/>
<polygon class="a" points="103.5,303.2 100.3,295.4 103.5,297 106.7,295.4"/>
<path class="g" d="M100 448.4 L143 448.4"/>
<path class="g" d="M100 519.7 L307 519.7"/>
<path class="g" d="M100.9 455 L100.9 471.2"/>
<path class="g" d="M100.9 496.2 L100.9 513"/>
<polygon class="a" points="100.9,451.8 97.7,459.6 100.9,458 104.1,459.6"/>
<polygon class="a" points="100.9,516.4 97.7,508.6 100.9,510.2 104.1,508.6"/>
<path class="g" d="M157.3 585.5 L157.3 654.8"/>
<path class="g" d="M705.5 586 L705.5 664"/>
<path class="g" d="M158 590.6 L384 590.6"/>
<path class="g" d="M469 590.8 L704 590.8"/>
<polygon class="a" points="157.8,590.6 165.8,587.4 164.2,590.6 165.8,593.8"/>
<polygon class="a" points="705.7,590.8 698.7,587.9 700.1,590.8 698.7,593.7"/>
<path class="g" d="M101.2 608.8 L327.5 608.8"/>
<path class="g" d="M101 862.3 L259 862.3"/>
<path class="g" d="M101.3 617 L101.3 710"/>
<path class="g" d="M101.3 741 L101.3 856"/>
<polygon class="a" points="101.3,613.6 98.6,619.8 101.3,618.6 104,619.8"/>
<polygon class="a" points="101.3,859.6 98.6,853.1 101.3,854.4 104,853.1"/>
<path class="g" d="M101 874.8 L129 874.8"/>
<path class="g" d="M101 943.1 L256 943.1"/>
<path class="g" d="M101.3 882 L101.3 897"/>
<path class="g" d="M101.3 920.6 L101.3 935"/>
<polygon class="a" points="101.3,879.3 98.5,886.1 101.3,884.7 104.1,886.1"/>
<polygon class="a" points="101.3,938.9 98.5,932.1 101.3,933.5 104.1,932.1"/>
<g id="txt" style="filter:grayscale(1)"><text x="395.5" y="42" font-size="20.3" textLength="64.5" lengthAdjust="spacingAndGlyphs">155.2</text>
<text x="77.5" y="189.6" font-size="20.3" textLength="51.5" lengthAdjust="spacingAndGlyphs">73.0</text>
<text x="78" y="488.8" font-size="20.3" textLength="51" lengthAdjust="spacingAndGlyphs">19.3</text>
<text x="395.3" y="597.2" font-size="20.3" textLength="65" lengthAdjust="spacingAndGlyphs">156.4</text>
<text x="78" y="728.8" font-size="20.3" textLength="51" lengthAdjust="spacingAndGlyphs">72.0</text>
<text x="78.3" y="916.5" font-size="20.3" textLength="51" lengthAdjust="spacingAndGlyphs">19.3</text>
<text x="508" y="370" font-size="20.3" textLength="43" lengthAdjust="spacingAndGlyphs">175</text>
<text x="298.6" y="995.6" font-size="20.2" textLength="267" lengthAdjust="spacingAndGlyphs">1 pad with wear sensor</text></g>
</svg>
</body></html>
